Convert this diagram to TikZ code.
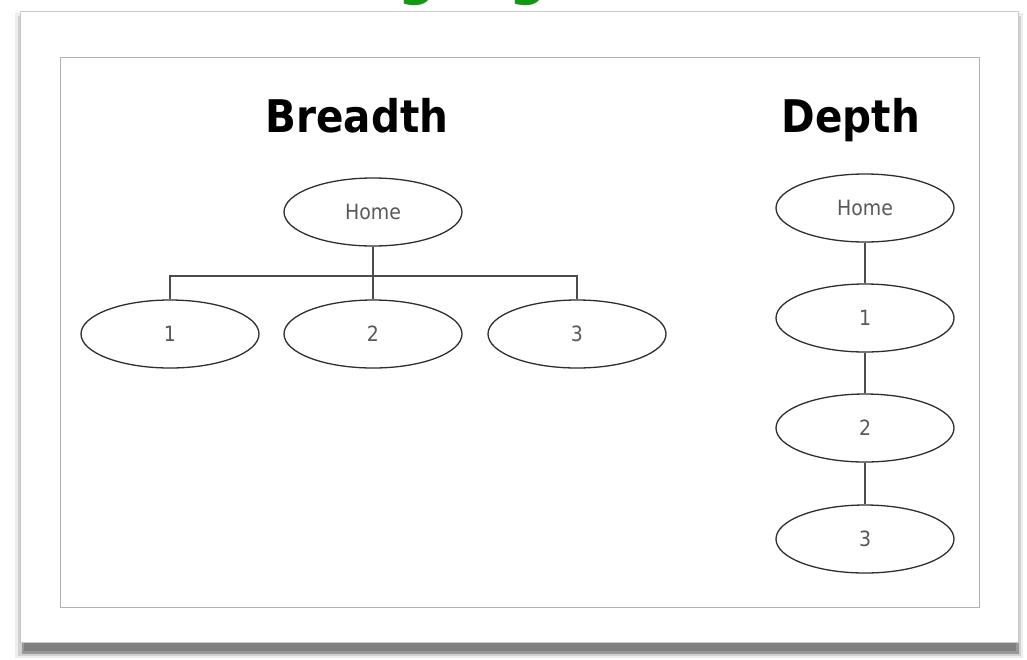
\documentclass[tikz,border=0pt]{standalone}
\usepackage{fontspec}
\setmainfont{DejaVu Sans}
\newfontfamily\titlefont{DejaVu Sans Condensed}
\newfontfamily\labelfont{DejaVu Sans Condensed}
\usepackage{tikz}
\usetikzlibrary{shapes.geometric, positioning, calc}
\definecolor{navgreen}{HTML}{109A10}
\definecolor{edgegray}{HTML}{2E2E2E}
\tikzset{
  page/.style={x=1pt, y=-1pt},
  oval/.style={ellipse, draw=edgegray, line width=1.3pt, fill=white,
    minimum width=178pt, minimum height=68pt, inner sep=0pt,
    font=\labelfont\fontsize{21}{23}\selectfont, text=black!65},
  link/.style={draw=black!70, line width=1.2pt},
  heading/.style={anchor=base, font=\titlefont\bfseries\fontsize{45}{48}\selectfont}
}
\begin{document}
\begin{tikzpicture}[page]
  \useasboundingbox (0,0) rectangle (1027,659);
  % cut-off green title above the card
  \begin{scope}
    \clip (0,0) rectangle (1027,8);
    \node[anchor=base, text=navgreen, font=\bfseries\fontsize{52}{56}\selectfont] (g1) at (417,-6) {g};
    \node[anchor=base, text=navgreen, font=\bfseries\fontsize{52}{56}\selectfont] (g2) at (528,-6) {g};
  \end{scope}
  % card with its shadow
  \fill[black!7] (15,13) rectangle (1023,658);
  \fill[black!18] (18,16) rectangle (1021,656);
  \fill[black!40] (22,636) rectangle (1019,654);
  \fill[black!50] (24,640) rectangle (1016,651);
  \filldraw[fill=white, draw=black!22, line width=1pt] (20,11) rectangle (1018,642);
  \draw[black!30, line width=1pt] (60,57) rectangle (979,607);
  % Breadth
  \node[heading] (breadth) at (357,132) {Breadth};
  \node[oval] (bhome) at (373,212) {Home};
  \node[oval] (b1) at (170,334) {1};
  \node[oval] (b2) at (373,334) {2};
  \node[oval] (b3) at (577,334) {3};
  \coordinate (bar) at (373,276);
  \draw[link] (bhome.south) -- (bar);
  \draw[link] (b1.north) |- (bar) -| (b3.north);
  \draw[link] (bar) -- (b2.north);
  % Depth
  \node[heading] (depth) at (851,132) {Depth};
  \node[oval] (dhome) at (865,208) {Home};
  \node[oval] (d1) at (865,318) {1};
  \node[oval] (d2) at (865,428) {2};
  \node[oval] (d3) at (865,539) {3};
  \draw[link] (dhome) -- (d1);
  \draw[link] (d1) -- (d2);
  \draw[link] (d2) -- (d3);
\end{tikzpicture}
\end{document}
